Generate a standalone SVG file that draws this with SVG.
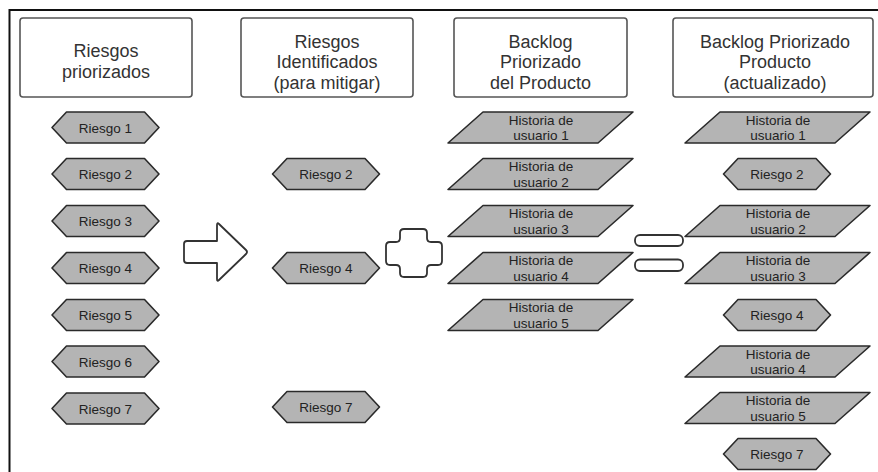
<svg xmlns="http://www.w3.org/2000/svg" xmlns:xlink="http://www.w3.org/1999/xlink" width="878" height="472" viewBox="0 0 878 472">
  <style>
    .frame { fill: none; stroke: #111; stroke-width: 2; }
    .header { fill: #fff; stroke: #555; stroke-width: 1.6; }
    .htext { font-family: "Liberation Sans", Arial, sans-serif; font-size: 18px; fill: #333; text-anchor: middle; }
    .shape { fill: #b4b4b4; stroke: #2a2a2a; stroke-width: 1.6; stroke-linejoin: round; }
    .stext { font-family: "Liberation Sans", Arial, sans-serif; font-size: 13.5px; fill: #222; text-anchor: middle; }
    .op { fill: #fff; stroke: #333; stroke-width: 1.8; stroke-linejoin: round; }
  </style>
  <defs>
    <!-- risk item: flat hexagon centred on the origin -->
    <path id="hex" d="M -53.5 0 L -39 -15.5 L 39 -15.5 L 53.5 0 L 39 15.5 L -39 15.5 Z"/>
    <!-- user story: right-leaning parallelogram centred on the origin -->
    <path id="para" d="M -57.5 -15.5 L 92.5 -15.5 L 57.5 15.5 L -92.5 15.5 Z"/>
  </defs>

  <rect width="878" height="472" fill="#fff"/>
  <path class="frame" d="M 9.5 472 V 10 H 878"/>

  <!-- column headers -->
  <g id="h-riesgos-priorizados">
    <rect class="header" x="20" y="18" width="172" height="79" rx="3"/>
    <text class="htext" x="106" y="57">Riesgos</text>
    <text class="htext" x="106" y="77.5">priorizados</text>
  </g>
  <g id="h-riesgos-identificados">
    <rect class="header" x="241" y="18" width="172" height="79" rx="3"/>
    <text class="htext" x="327" y="47.5">Riesgos</text>
    <text class="htext" x="327" y="68">Identificados</text>
    <text class="htext" x="327" y="88.5">(para mitigar)</text>
  </g>
  <g id="h-backlog">
    <rect class="header" x="454" y="18" width="173" height="79" rx="3"/>
    <text class="htext" x="540.5" y="47.5">Backlog</text>
    <text class="htext" x="540.5" y="68">Priorizado</text>
    <text class="htext" x="540.5" y="88.5">del Producto</text>
  </g>
  <g id="h-backlog-actualizado">
    <rect class="header" x="673" y="18" width="200" height="79" rx="3"/>
    <text class="htext" x="775" y="47.5">Backlog Priorizado</text>
    <text class="htext" x="775" y="68">Producto</text>
    <text class="htext" x="775" y="88.5">(actualizado)</text>
  </g>

  <!-- column 1: prioritised risks -->
  <g id="c1-riesgo-1"><use xlink:href="#hex" class="shape" transform="translate(105.5 127.5)"/><text class="stext" x="105.5" y="132.5">Riesgo 1</text></g>
  <g id="c1-riesgo-2"><use xlink:href="#hex" class="shape" transform="translate(105.5 174)"/><text class="stext" x="105.5" y="179">Riesgo 2</text></g>
  <g id="c1-riesgo-3"><use xlink:href="#hex" class="shape" transform="translate(105.5 221)"/><text class="stext" x="105.5" y="226">Riesgo 3</text></g>
  <g id="c1-riesgo-4"><use xlink:href="#hex" class="shape" transform="translate(105.5 268)"/><text class="stext" x="105.5" y="273">Riesgo 4</text></g>
  <g id="c1-riesgo-5"><use xlink:href="#hex" class="shape" transform="translate(105.5 315)"/><text class="stext" x="105.5" y="320">Riesgo 5</text></g>
  <g id="c1-riesgo-6"><use xlink:href="#hex" class="shape" transform="translate(105.5 361.5)"/><text class="stext" x="105.5" y="366.5">Riesgo 6</text></g>
  <g id="c1-riesgo-7"><use xlink:href="#hex" class="shape" transform="translate(105.5 408.5)"/><text class="stext" x="105.5" y="413.5">Riesgo 7</text></g>

  <!-- column 2: risks to mitigate -->
  <g id="c2-riesgo-2"><use xlink:href="#hex" class="shape" transform="translate(326 174)"/><text class="stext" x="326" y="179">Riesgo 2</text></g>
  <g id="c2-riesgo-4"><use xlink:href="#hex" class="shape" transform="translate(326 268)"/><text class="stext" x="326" y="273">Riesgo 4</text></g>
  <g id="c2-riesgo-7"><use xlink:href="#hex" class="shape" transform="translate(326 407)"/><text class="stext" x="326" y="412">Riesgo 7</text></g>

  <!-- column 3: product backlog -->
  <g id="c3-historia-1"><use xlink:href="#para" class="shape" transform="translate(540.5 127.5)"/><text class="stext" x="541" y="124.5">Historia de</text><text class="stext" x="541" y="140">usuario 1</text></g>
  <g id="c3-historia-2"><use xlink:href="#para" class="shape" transform="translate(540.5 174)"/><text class="stext" x="541" y="171">Historia de</text><text class="stext" x="541" y="186.5">usuario 2</text></g>
  <g id="c3-historia-3"><use xlink:href="#para" class="shape" transform="translate(540.5 221)"/><text class="stext" x="541" y="218">Historia de</text><text class="stext" x="541" y="233.5">usuario 3</text></g>
  <g id="c3-historia-4"><use xlink:href="#para" class="shape" transform="translate(540.5 268)"/><text class="stext" x="541" y="265">Historia de</text><text class="stext" x="541" y="280.5">usuario 4</text></g>
  <g id="c3-historia-5"><use xlink:href="#para" class="shape" transform="translate(540.5 315)"/><text class="stext" x="541" y="312">Historia de</text><text class="stext" x="541" y="327.5">usuario 5</text></g>

  <!-- column 4: updated backlog -->
  <g id="c4-historia-1"><use xlink:href="#para" class="shape" transform="translate(777.5 127.5)"/><text class="stext" x="778" y="124.5">Historia de</text><text class="stext" x="778" y="140">usuario 1</text></g>
  <g id="c4-riesgo-2"><use xlink:href="#hex" class="shape" transform="translate(777 174)"/><text class="stext" x="777" y="179">Riesgo 2</text></g>
  <g id="c4-historia-2"><use xlink:href="#para" class="shape" transform="translate(777.5 221)"/><text class="stext" x="778" y="218">Historia de</text><text class="stext" x="778" y="233.5">usuario 2</text></g>
  <g id="c4-historia-3"><use xlink:href="#para" class="shape" transform="translate(777.5 268)"/><text class="stext" x="778" y="265">Historia de</text><text class="stext" x="778" y="280.5">usuario 3</text></g>
  <g id="c4-riesgo-4"><use xlink:href="#hex" class="shape" transform="translate(777 315)"/><text class="stext" x="777" y="320">Riesgo 4</text></g>
  <g id="c4-historia-4"><use xlink:href="#para" class="shape" transform="translate(777.5 361.5)"/><text class="stext" x="778" y="358.5">Historia de</text><text class="stext" x="778" y="374">usuario 4</text></g>
  <g id="c4-historia-5"><use xlink:href="#para" class="shape" transform="translate(777.5 408)"/><text class="stext" x="778" y="405">Historia de</text><text class="stext" x="778" y="420.5">usuario 5</text></g>
  <g id="c4-riesgo-7"><use xlink:href="#hex" class="shape" transform="translate(777 454)"/><text class="stext" x="777" y="459">Riesgo 7</text></g>

  <!-- operators between columns: arrow, plus, equals -->
  <g id="connectors">
    <path id="op-arrow" class="op" d="M 187 241 H 217 V 225 Q 217 222 219 224 L 246 250 Q 248 252 246 254 L 219 280 Q 217 282 217 279 V 263 H 187 Q 184 263 184 260 V 244 Q 184 241 187 241 Z"/>
    <path id="op-plus" class="op" d="M 404 229 H 423 Q 427 229 427 233 V 238 Q 427 242 431 242 H 438 Q 442 242 442 246 V 261 Q 442 265 438 265 H 431 Q 427 265 427 269 V 273 Q 427 277 423 277 H 404 Q 400 277 400 273 V 269 Q 400 265 396 265 H 390 Q 386 265 386 261 V 246 Q 386 242 390 242 H 396 Q 400 242 400 238 V 233 Q 400 229 404 229 Z"/>
    <g id="op-equals">
      <rect class="op" x="635" y="235" width="48" height="11" rx="5"/>
      <rect class="op" x="635" y="259.5" width="48" height="11.5" rx="5"/>
    </g>
  </g>
</svg>
